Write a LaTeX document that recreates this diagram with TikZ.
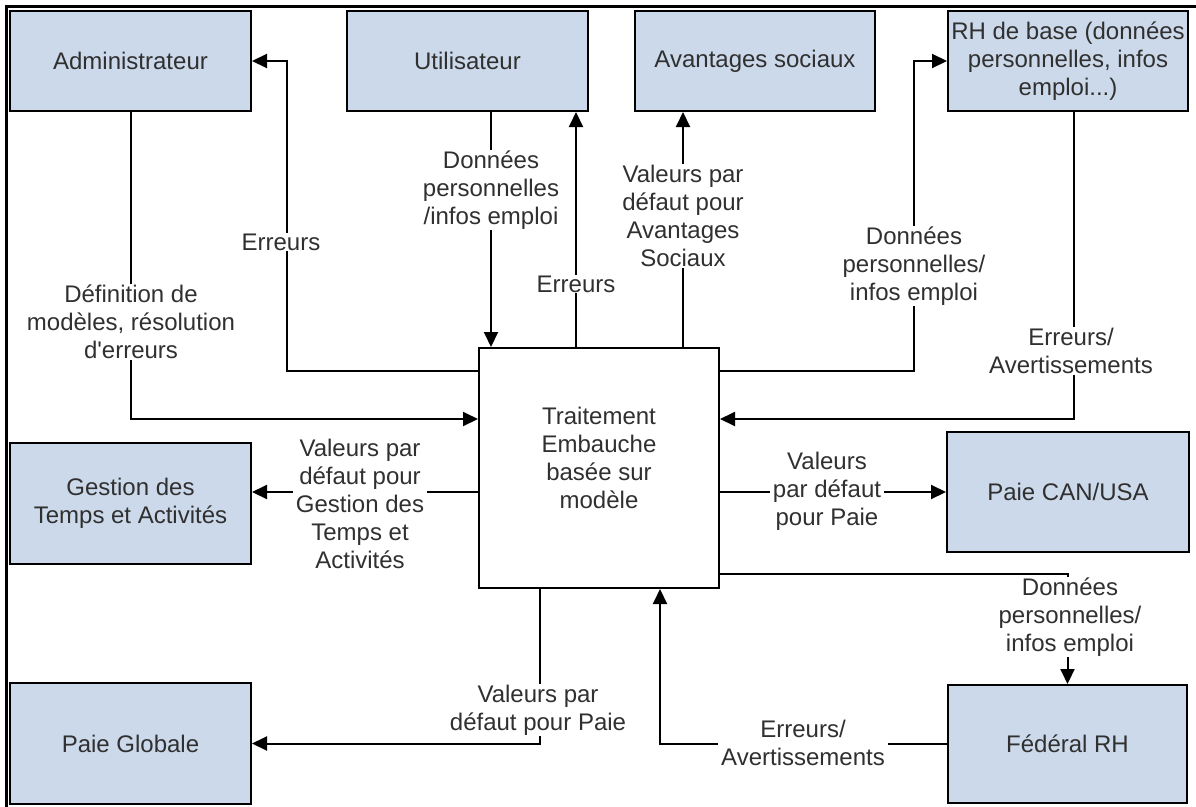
\documentclass[tikz,border=0pt]{standalone}
\usepackage{fontspec}
\setmainfont{Liberation Sans}
\newfontfamily\diagfont{Liberation Sans}
\usetikzlibrary{arrows.meta}
\definecolor{boxfill}{RGB}{204,217,234}
\definecolor{inkgray}{RGB}{48,48,48}
\begin{document}
\begin{tikzpicture}[x=1pt,y=-1pt,
  txt/.style={font=\diagfont\fontsize{24}{28}\selectfont, text=inkgray, align=center},
  module/.style={txt, draw=black, line width=2pt, fill=boxfill, inner sep=0pt,
                 minimum width=241pt, minimum height=100pt},
  hub/.style={txt, draw=black, line width=2pt, fill=white, inner sep=0pt,
              minimum width=240pt, minimum height=240pt},
  flow/.style={line width=2pt, -{Triangle[length=15pt,width=14pt]}},
  tag/.style={txt, fill=white, inner xsep=3pt, inner ysep=1pt}]
\useasboundingbox (0,0) rectangle (1196,806);

% frame
\draw[line width=2.5pt] (6.5,820) -- (6.5,6.5) -- (1210,6.5);

% modules
\node[module] (admin) at (130.5,61) {Administrateur};
\node[module] (user) at (467.5,61) {Utilisateur};
\node[module, minimum width=240pt] (avant) at (755,61) {Avantages sociaux};
\node[module, minimum width=240pt] (rh) at (1068,61) {RH de base (données\\personnelles, infos\\emploi...)};
\node[module, minimum height=121pt] (gestion) at (130.5,503.5) {Gestion des\\Temps et Activités};
\node[module, minimum width=242pt, minimum height=120pt] (paiecan) at (1068,492) {Paie CAN/USA};
\node[module, minimum height=121pt] (paieglob) at (130.5,743.5) {Paie Globale};
\node[module, minimum width=239pt, minimum height=118pt] (fed) at (1067.5,744) {Fédéral RH};

% processing hub
\node[hub] (T) at (599,468) {};
\node[txt] (Ttext) at (599,458) {Traitement\\Embauche\\basée sur\\modèle};

% routing helpers
\coordinate (yA) at (0,371);
\coordinate (yB) at (0,419);
\coordinate (yC) at (0,492);
\coordinate (yD) at (0,574);
\coordinate (xAdm) at (287,0);
\coordinate (xUsrIn) at (491,0);
\coordinate (xUsrOut) at (576,0);
\coordinate (xAv) at (683,0);
\coordinate (xRhIn) at (914,0);
\coordinate (xRhOut) at (1074,0);
\coordinate (xPG) at (540,0);
\coordinate (xFed) at (660,0);

% connectors
\draw[flow] (T.west |- yA) -| (xAdm |- admin.east) -- (admin.east);
\draw[flow] (admin.south) |- (T.west |- yB);
\draw[flow] (user.south -| xUsrIn) -- (T.north -| xUsrIn);
\draw[flow] (T.north -| xUsrOut) -- (user.south -| xUsrOut);
\draw[flow] (T.north -| xAv) -- (avant.south -| xAv);
\draw[flow] (T.east |- yA) -| (xRhIn |- rh.west) -- (rh.west);
\draw[flow] (rh.south -| xRhOut) |- (T.east |- yB);
\draw[flow] (T.west |- yC) -- (gestion.east |- yC);
\draw[flow] (T.east |- yC) -- (paiecan.west |- yC);
\draw[flow] (T.east |- yD) -| (fed.north);
\draw[flow] (T.south -| xPG) |- (paieglob.east);
\draw[flow] (fed.west) -| (T.south -| xFed);

% flow labels
\node[tag] (l1) at (281,242) {Erreurs};
\node[tag] (l2) at (131,322) {Définition de\\modèles, résolution\\d'erreurs};
\node[tag] (l3) at (491,190) {Données\\personnelles\\/infos emploi};
\node[tag] (l4) at (576,284) {Erreurs};
\node[tag] (l5) at (683,216) {Valeurs par\\défaut pour\\Avantages\\Sociaux};
\node[tag] (l6) at (914,266) {Données\\personnelles/\\infos emploi};
\node[tag] (l7) at (1071,351) {Erreurs/\\Avertissements};
\node[tag] (l8) at (360,504) {Valeurs par\\défaut pour\\Gestion des\\Temps et\\Activités};
\node[tag] (l9) at (827,491) {Valeurs\\par défaut\\pour Paie};
\node[tag, inner xsep=8pt] (l10) at (1070,617) {Données\\personnelles/\\infos emploi};
\node[tag] (l11) at (538,710) {Valeurs par\\défaut pour Paie};
\node[tag] (l12) at (803,743) {Erreurs/\\Avertissements};
\end{tikzpicture}
\end{document}
